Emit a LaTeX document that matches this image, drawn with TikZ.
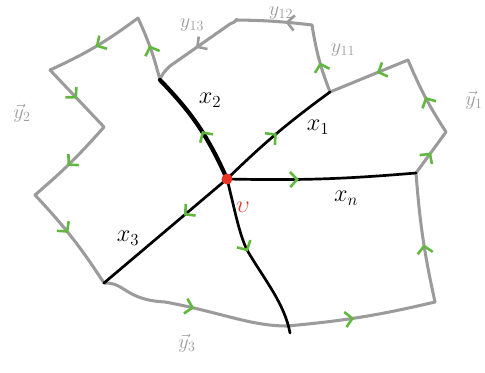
\documentclass[tikz,border=0pt]{standalone}
\usepackage{amsmath}
\usepackage{tikz}
\usetikzlibrary{arrows.meta, decorations.markings}

\definecolor{edgegray}{RGB}{155,155,155}
\definecolor{arrgreen}{RGB}{98,184,62}
\definecolor{vred}{RGB}{232,52,36}

\begin{document}
\begin{tikzpicture}[
  x=0.03cm, y=-0.03cm,
  every node/.style={font=\fontsize{22}{24}\selectfont, inner sep=0pt},
  bd/.style={draw=edgegray, line width=2.6pt, line cap=round, line join=round},
  spoke/.style={draw=black, line width=2.3pt, line cap=round},
  midarr/.style={postaction={decorate}, decoration={markings,
    mark=at position #1 with {\arrow[arrgreen]{Straight Barb[length=6pt, width=13pt, line width=2.2pt]}}}},
  grayarr/.style={postaction={decorate}, decoration={markings,
    mark=at position #1 with {\arrow[edgegray]{Straight Barb[length=6pt, width=13pt, line width=2.2pt]}}}},
  ylabel/.style={text=edgegray, font=\fontsize{18}{20}\selectfont}
]
\useasboundingbox (0,0) rectangle (485,373);

% ---- VERTICES ----
\coordinate (v)  at (227,179);
\coordinate (a2) at (160,80);
\coordinate (a1) at (330,92);
\coordinate (an) at (416,173);
\coordinate (a3) at (104,283);
\coordinate (a4) at (290,333);
% boundary corners
\coordinate (p1)  at (138,18);
\coordinate (p2)  at (50,70);
\coordinate (p3)  at (104,127);
\coordinate (p4)  at (35,195);
\coordinate (b)   at (287,326);
\coordinate (p5)  at (435,302);
\coordinate (p7)  at (446,132);
\coordinate (p8)  at (408,60);
\coordinate (p9)  at (312,25);
\coordinate (p10) at (236,20);
\coordinate (k13) at (170,66);

% ---- BOUNDARY ----
\draw[bd, midarr=0.55] (a2) to[bend right=5] (p1);
\draw[bd, midarr=0.5]  (p1) to[bend left=6] (p2);
\draw[bd, midarr=0.5]  (p2) -- (p3);
\draw[bd, midarr=0.55] (p3) to[bend left=4] (p4);
\draw[bd, midarr=0.45] (p4) to[bend left=5] (a3);
\draw[bd, midarr=0.5]  (a3) .. controls (125,282) and (125,300) .. (165,302)
  .. controls (220,312) and (250,326) .. (b);
\draw[bd, midarr=0.45] (b) to[bend right=4] (p5);
\draw[bd, midarr=0.45] (p5) to[bend left=4] (an);
\draw[bd, midarr=0.5]  (an) -- (p7);
\draw[bd, midarr=0.5]  (p7) to[bend left=5] (p8);
\draw[bd, midarr=0.4]  (p8) -- (a1);
\draw[bd, midarr=0.45] (a1) to[bend left=6] (p9);
\draw[bd, grayarr=0.35] (p9) to[bend right=3] (p10);
\draw[bd, grayarr=0.5] (p10) .. controls (238,18) and (236,22) .. (230,24)
  -- (k13) .. controls (165,71) and (161,75) .. (a2);

% ---- SPOKES ----
\draw[spoke, line width=3.6pt, midarr=0.45] (v) to[bend right=10] (a2);
\draw[spoke, midarr=0.5]  (v) to[bend left=4] (a1);
\draw[spoke, midarr=0.38] (v) to[bend right=3] (an);
\draw[spoke, midarr=0.35] (v) -- (a3);
\draw[spoke, midarr=0.45] (v) .. controls (235,210) and (240,240) .. (250,255)
  .. controls (265,280) and (285,305) .. (a4);
\fill[vred] (v) circle (5.5);

% ---- LABELS ----
\node (lx2) at (210,100) {$x_2$};
\node (lx1) at (318,127) {$x_1$};
\node (lxn) at (346,198) {$x_n$};
\node (lx3) at (128,238) {$x_3$};
\node[text=vred] (lv) at (243,207) {$\upsilon$};
\node[ylabel] (ly13) at (192,25) {$y_{13}$};
\node[ylabel] (ly12) at (281,13) {$y_{12}$};
\node[ylabel] (ly11) at (343,50) {$y_{11}$};
\node[ylabel] (ly1) at (474,100) {$\vec{y}_1$};
\node[ylabel] (ly2) at (22,113) {$\vec{y}_2$};
\node[ylabel] (ly3) at (187,343) {$\vec{y}_3$};
\end{tikzpicture}
\end{document}
